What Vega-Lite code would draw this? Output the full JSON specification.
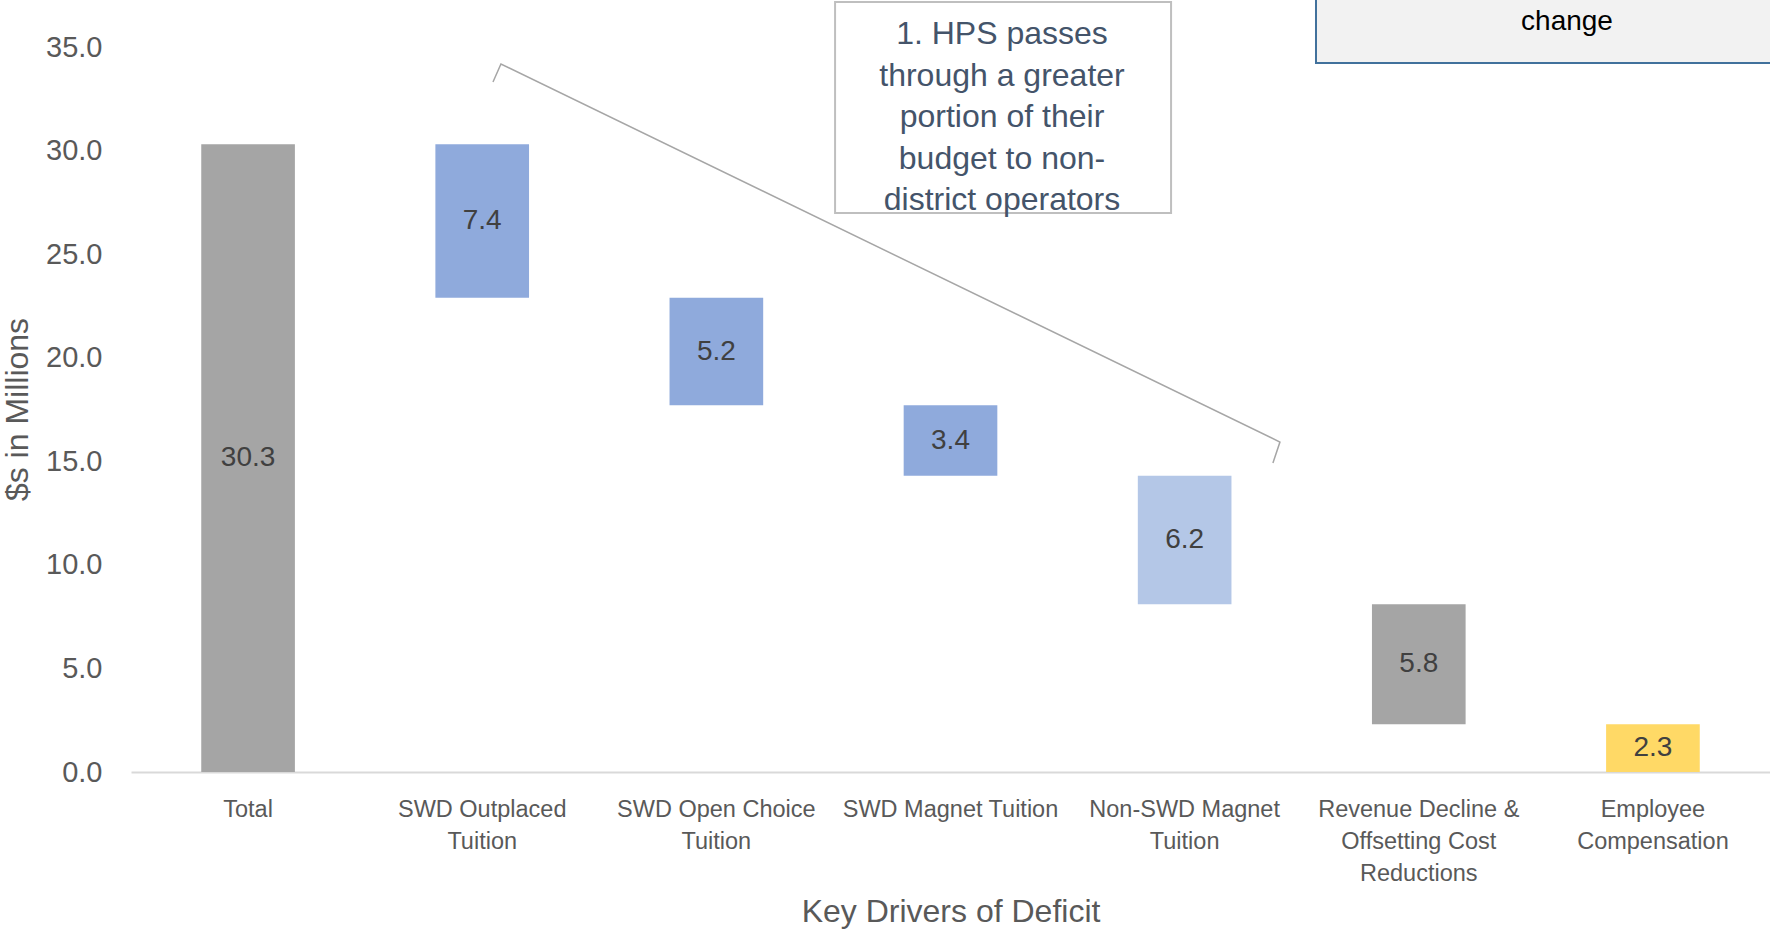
{
  "$schema": "https://vega.github.io/schema/vega-lite/v6.json",
  "width": 1639,
  "height": 725,
  "autosize": "none",
  "padding": {"left": 131, "top": 47, "right": 0, "bottom": 157},
  "background": "white",
  "config": {
    "view": {"stroke": null},
    "font": "Liberation Sans"
  },
  "layer": [
    {
      "data": {
        "values": [
          {"category": "Total", "start": 0, "end": 30.3, "value": 30.3, "kind": "total"},
          {"category": "SWD Outplaced Tuition", "start": 22.9, "end": 30.3, "value": 7.4, "kind": "swd"},
          {"category": "SWD Open Choice Tuition", "start": 17.7, "end": 22.9, "value": 5.2, "kind": "swd"},
          {"category": "SWD Magnet Tuition", "start": 14.3, "end": 17.7, "value": 3.4, "kind": "swd"},
          {"category": "Non-SWD Magnet Tuition", "start": 8.1, "end": 14.3, "value": 6.2, "kind": "nonswd"},
          {"category": "Revenue Decline & Offsetting Cost Reductions", "start": 2.3, "end": 8.1, "value": 5.8, "kind": "revenue"},
          {"category": "Employee Compensation", "start": 0, "end": 2.3, "value": 2.3, "kind": "employee"}
        ]
      },
      "encoding": {
        "x": {
          "field": "category",
          "type": "nominal",
          "sort": null,
          "scale": {"paddingInner": 0.6, "paddingOuter": 0.3},
          "axis": {
            "title": "Key Drivers of Deficit",
            "labelAngle": 0,
            "ticks": false,
            "domainColor": "#D9D9D9",
            "domainWidth": 2,
            "labelFont": "Liberation Sans",
            "labelFontSize": 23.5,
            "labelColor": "#595959",
            "labelPadding": 25,
            "labelLineHeight": 32,
            "labelLimit": 400,
            "labelOverlap": false,
            "labelExpr": "datum.label == 'SWD Outplaced Tuition' ? ['SWD Outplaced','Tuition'] : datum.label == 'SWD Open Choice Tuition' ? ['SWD Open Choice','Tuition'] : datum.label == 'Non-SWD Magnet Tuition' ? ['Non-SWD Magnet','Tuition'] : datum.label == 'Revenue Decline & Offsetting Cost Reductions' ? ['Revenue Decline &','Offsetting Cost','Reductions'] : datum.label == 'Employee Compensation' ? ['Employee','Compensation'] : datum.label",
            "titleFont": "Liberation Sans",
            "titleFontSize": 32,
            "titleFontWeight": "normal",
            "titleColor": "#595959",
            "titleY": 139,
            "titleBaseline": "middle"
          }
        }
      },
      "layer": [
        {
          "mark": {"type": "bar"},
          "encoding": {
            "y": {
              "field": "start",
              "type": "quantitative",
              "scale": {"domain": [0, 35], "nice": false},
              "axis": {
                "title": "$s in Millions",
                "values": [0, 5, 10, 15, 20, 25, 30, 35],
                "format": ".1f",
                "ticks": false,
                "domain": false,
                "grid": false,
                "labelFont": "Liberation Sans",
                "labelFontSize": 29,
                "labelColor": "#595959",
                "labelPadding": 29,
                "titleFont": "Liberation Sans",
                "titleFontSize": 32,
                "titleFontWeight": "normal",
                "titleColor": "#595959",
                "titleX": -114,
                "titleY": 362,
                "titleAlign": "center",
                "titleBaseline": "middle"
              }
            },
            "y2": {"field": "end"},
            "color": {
              "field": "kind",
              "type": "nominal",
              "scale": {
                "domain": ["total", "swd", "nonswd", "revenue", "employee"],
                "range": ["#A5A5A5", "#8FAADC", "#B4C7E7", "#A5A5A5", "#FFD966"]
              },
              "legend": null
            }
          }
        },
        {
          "transform": [{"calculate": "(datum.start + datum.end) / 2", "as": "mid"}],
          "mark": {"type": "text", "font": "Liberation Sans", "fontSize": 28, "color": "#404040", "baseline": "middle", "align": "center"},
          "encoding": {
            "y": {"field": "mid", "type": "quantitative", "scale": {"domain": [0, 35], "nice": false}},
            "text": {"field": "value", "type": "quantitative", "format": ".1f"}
          }
        }
      ]
    },
    {
      "layer": [
        {
          "data": {"values": [{"note": "box"}]},
          "mark": {"type": "rect", "fill": "white", "stroke": "#BFBFBF", "strokeWidth": 2},
          "encoding": {
            "x": {"datum": 3.007, "type": "quantitative", "scale": {"domain": [0, 7], "nice": false, "zero": false}, "axis": null},
            "x2": {"datum": 4.442},
            "y": {"datum": 26.99, "type": "quantitative", "scale": {"domain": [0, 35], "nice": false}},
            "y2": {"datum": 37.17}
          }
        },
        {
          "data": {"values": [{"note": "text"}]},
          "mark": {"type": "text", "font": "Liberation Sans", "fontSize": 32, "color": "#44546A", "align": "center", "baseline": "middle", "lineHeight": 41.5},
          "encoding": {
            "x": {"datum": 3.72, "type": "quantitative", "scale": {"domain": [0, 7], "nice": false, "zero": false}, "axis": null},
            "y": {"datum": 35.62, "type": "quantitative", "scale": {"domain": [0, 35], "nice": false}},
            "text": {"value": ["1. HPS passes", "through a greater", "portion of their", "budget to non-", "district operators"]}
          }
        },
        {
          "data": {"values": [{"note": "topbox"}]},
          "mark": {"type": "rect", "fill": "#F2F2F2", "stroke": "#41719C", "strokeWidth": 2},
          "encoding": {
            "x": {"datum": 5.061, "type": "quantitative", "scale": {"domain": [0, 7], "nice": false, "zero": false}, "axis": null},
            "x2": {"datum": 7.3},
            "y": {"datum": 34.23, "type": "quantitative", "scale": {"domain": [0, 35], "nice": false}},
            "y2": {"datum": 40}
          }
        },
        {
          "data": {"values": [{"note": "change"}]},
          "mark": {"type": "text", "font": "Liberation Sans", "fontSize": 28, "color": "#000000", "align": "center", "baseline": "middle"},
          "encoding": {
            "x": {"datum": 6.133, "type": "quantitative", "scale": {"domain": [0, 7], "nice": false, "zero": false}, "axis": null},
            "y": {"datum": 36.19, "type": "quantitative", "scale": {"domain": [0, 35], "nice": false}},
            "text": {"value": "change"}
          }
        },
        {
          "data": {
            "values": [
              {"bx": 1.546, "by": 33.31, "o": 0},
              {"bx": 1.58, "by": 34.18, "o": 1},
              {"bx": 4.907, "by": 15.93, "o": 2},
              {"bx": 4.877, "by": 14.92, "o": 3}
            ]
          },
          "mark": {"type": "line", "stroke": "#A6A6A6", "strokeWidth": 1.5},
          "encoding": {
            "x": {"field": "bx", "type": "quantitative", "scale": {"domain": [0, 7], "nice": false, "zero": false}, "axis": null},
            "y": {"field": "by", "type": "quantitative", "scale": {"domain": [0, 35], "nice": false}},
            "order": {"field": "o", "type": "quantitative"}
          }
        }
      ]
    }
  ],
  "resolve": {"scale": {"x": "independent"}, "axis": {"x": "independent"}}
}
